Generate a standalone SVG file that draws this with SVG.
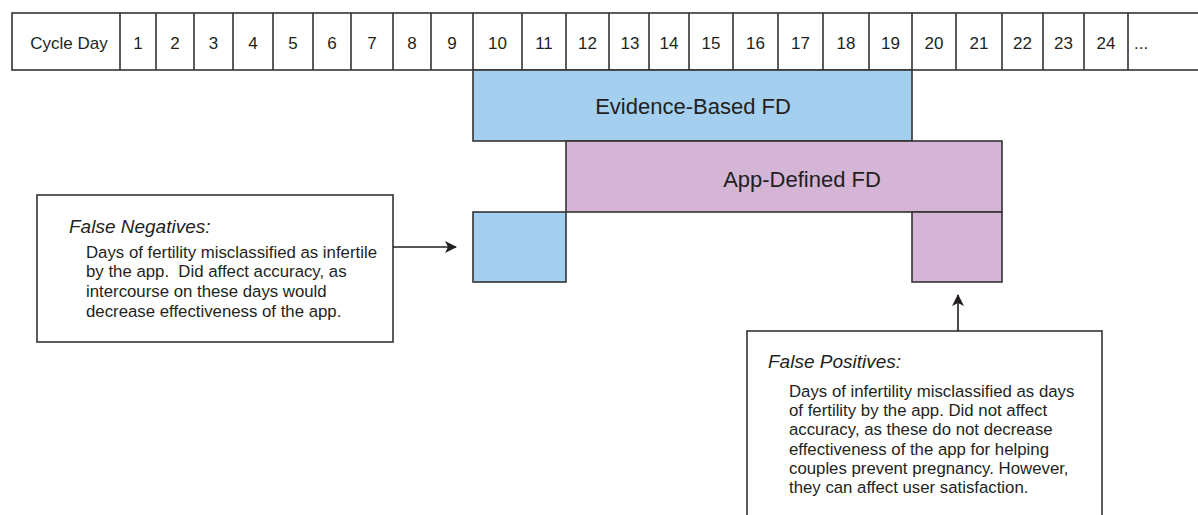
<svg xmlns="http://www.w3.org/2000/svg" width="1198" height="515" viewBox="0 0 1198 515">
  <style>
    text { font-family: "Liberation Sans", Arial, sans-serif; fill: #231f20; }
    .hdr { font-size: 17px; text-anchor: middle; }
    .line { stroke: #333; stroke-width: 1.6; fill: none; }
    .band { font-size: 22px; text-anchor: middle; }
    .blue { fill: #a4cfee; stroke: #333; stroke-width: 1.6; }
    .pink { fill: #d4b5d6; stroke: #333; stroke-width: 1.6; }
    .note { fill: #fff; stroke: #333; stroke-width: 1.6; }
    .ttl { font-size: 19px; font-style: italic; }
    .body { font-size: 16.8px; }
    .conn { stroke: #231f20; stroke-width: 1.6; fill: none; }
  </style>
  <defs>
    <marker id="arrow" viewBox="0 0 12 12" refX="11" refY="6" markerWidth="12" markerHeight="12" markerUnits="userSpaceOnUse" orient="auto">
      <path d="M0,0 L12,6 L0,12 L3,6 Z" fill="#231f20"/>
    </marker>
  </defs>
  <rect width="1198" height="515" fill="#fff"/>

  <g id="cycle-day-table">
    <rect class="line" x="12" y="13" width="1200" height="57"/>
    <path class="line" d="M120,13V70 M156,13V70 M194,13V70 M233,13V70 M273,13V70 M313,13V70 M351,13V70 M393,13V70 M431,13V70 M473,13V70 M522,13V70 M566,13V70 M609,13V70 M649,13V70 M689,13V70 M733,13V70 M778,13V70 M823,13V70 M869,13V70 M912,13V70 M956,13V70 M1002,13V70 M1043,13V70 M1084,13V70 M1128,13V70"/>
    <text class="hdr" x="69" y="49">Cycle Day</text>
    <text class="hdr" x="138" y="49">1</text>
    <text class="hdr" x="175" y="49">2</text>
    <text class="hdr" x="213.5" y="49">3</text>
    <text class="hdr" x="253" y="49">4</text>
    <text class="hdr" x="293" y="49">5</text>
    <text class="hdr" x="332" y="49">6</text>
    <text class="hdr" x="372" y="49">7</text>
    <text class="hdr" x="412" y="49">8</text>
    <text class="hdr" x="452" y="49">9</text>
    <text class="hdr" x="497.5" y="49">10</text>
    <text class="hdr" x="544" y="49">11</text>
    <text class="hdr" x="587.5" y="49">12</text>
    <text class="hdr" x="630" y="49">13</text>
    <text class="hdr" x="669" y="49">14</text>
    <text class="hdr" x="711" y="49">15</text>
    <text class="hdr" x="755.5" y="49">16</text>
    <text class="hdr" x="800.5" y="49">17</text>
    <text class="hdr" x="846" y="49">18</text>
    <text class="hdr" x="890.5" y="49">19</text>
    <text class="hdr" x="934" y="49">20</text>
    <text class="hdr" x="979" y="49">21</text>
    <text class="hdr" x="1022.5" y="49">22</text>
    <text class="hdr" x="1063.5" y="49">23</text>
    <text class="hdr" x="1106" y="49">24</text>
    <text class="hdr" x="1134" y="49" style="text-anchor:start">...</text>
  </g>

  <g id="evidence-based-fd">
    <rect class="blue" x="473" y="70" width="439" height="71"/>
    <text class="band" x="693" y="114">Evidence-Based FD</text>
  </g>

  <g id="app-defined-fd">
    <rect class="pink" x="566" y="141" width="436" height="71"/>
    <text class="band" x="802" y="187">App-Defined FD</text>
  </g>

  <g id="false-negative-days">
    <rect class="blue" x="473" y="212" width="93" height="70"/>
  </g>

  <g id="false-positive-days">
    <rect class="pink" x="912" y="212" width="90" height="70"/>
  </g>

  <g id="false-negatives-note">
    <rect class="note" x="37" y="195" width="356" height="147"/>
    <text class="ttl" x="69" y="233">False Negatives:</text>
    <text class="body" x="86" y="257.5">Days of fertility misclassified as infertile</text>
    <text class="body" x="86" y="277" xml:space="preserve">by the app.  Did affect accuracy, as</text>
    <text class="body" x="86" y="297">intercourse on these days would</text>
    <text class="body" x="86" y="317">decrease effectiveness of the app.</text>
  </g>

  <g id="false-positives-note">
    <rect class="note" x="747" y="331" width="355" height="200"/>
    <text class="ttl" x="768" y="368">False Positives:</text>
    <text class="body" x="789" y="397">Days of infertility misclassified as days</text>
    <text class="body" x="789" y="416">of fertility by the app. Did not affect</text>
    <text class="body" x="789" y="435">accuracy, as these do not decrease</text>
    <text class="body" x="789" y="454.5">effectiveness of the app for helping</text>
    <text class="body" x="789" y="474">couples prevent pregnancy. However,</text>
    <text class="body" x="789" y="493">they can affect user satisfaction.</text>
  </g>

  <g id="connectors">
    <line class="conn" x1="393" y1="247" x2="456" y2="247" marker-end="url(#arrow)"/>
    <line class="conn" x1="958" y1="331" x2="958" y2="295" marker-end="url(#arrow)"/>
  </g>
</svg>
